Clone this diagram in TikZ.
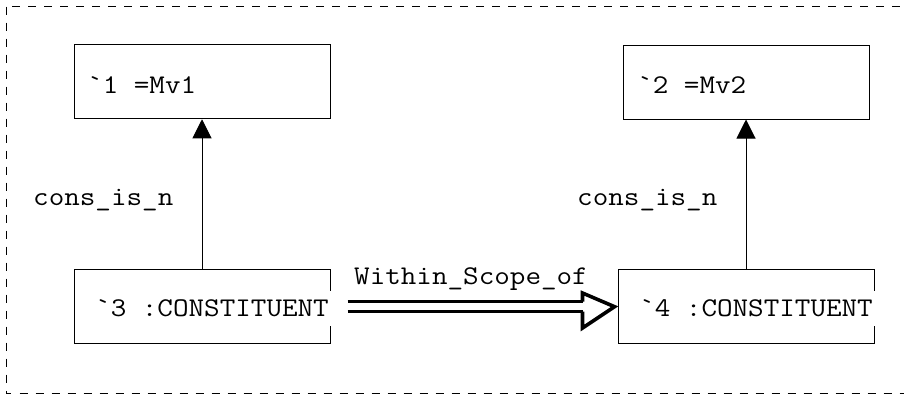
\documentclass[tikz,border=0pt]{standalone}
\usepackage{fontspec}
\newfontfamily\monofont{Latin Modern Mono}[FakeStretch=1.12]
\usetikzlibrary{arrows.meta,calc}
\begin{document}
\begin{tikzpicture}[x=1pt,y=-1pt,
  box/.style={draw=black,line width=1pt,inner sep=0pt,minimum width=256pt,minimum height=74pt},
  txt/.style={inner sep=0pt,anchor=base west,font=\monofont\fontsize{27}{31}\selectfont},
  ctxt/.style={txt,fill=white,inner xsep=5pt,inner ysep=8.5pt},
  frame/.style={draw=black,line width=1pt,dash pattern=on 8pt off 8pt},
  link/.style={draw=black,line width=1pt,-{Triangle[width=19pt,length=19pt]}},
  dline/.style={draw=black,line width=2.6pt},
  dhead/.style={draw=black,line width=3.6pt,line join=miter}]
\clip (0,0) rectangle (904,394);
\draw[frame] (6.5,6.5) rectangle (930,393.5);
% boxes
\node[box] (n1) at (202,81.75) {};
\node[box,minimum width=246pt] (n2) at (746,82) {};
\node[box] (n3) at (202,306) {};
\node[box] (n4) at (746,306) {};
% box texts
\node[txt] (t1) at (87,93) {\symbol{96}1 =Mv1};
\node[txt] (t2) at (637,93) {\symbol{96}2 =Mv2};
\node[ctxt] (t3) at (90,316.7) {\symbol{96}3 :CONSTITUENT};
\node[ctxt] (t4) at (634,316.7) {\symbol{96}4 :CONSTITUENT};
% vertical links
\draw[link] (n3.north) -- (n1.south);
\draw[link] (n4.north) -- (n2.south);
\node[txt] (l1) at (33,205) {cons\_is\_n};
\node[txt] (l2) at (577,205) {cons\_is\_n};
% double arrow
\coordinate (a0) at ($(n3.east)+(17,0.7)$);
\coordinate (tip) at ($(n4.west)+(-3,0.7)$);
\draw[dline] ($(a0)+(0,-5)$) -- ($(tip)+(-32,-5)$);
\draw[dline] ($(a0)+(0,5)$) -- ($(tip)+(-32,5)$);
\draw[dhead] ($(tip)+(-32,-5)$) -- ($(tip)+(-32,-13.7)$) -- (tip) -- ($(tip)+(-32,21.3)$) -- ($(tip)+(-32,5)$);
\node[txt] (l3) at (354,284) {Within\_Scope\_of};
\end{tikzpicture}
\end{document}
